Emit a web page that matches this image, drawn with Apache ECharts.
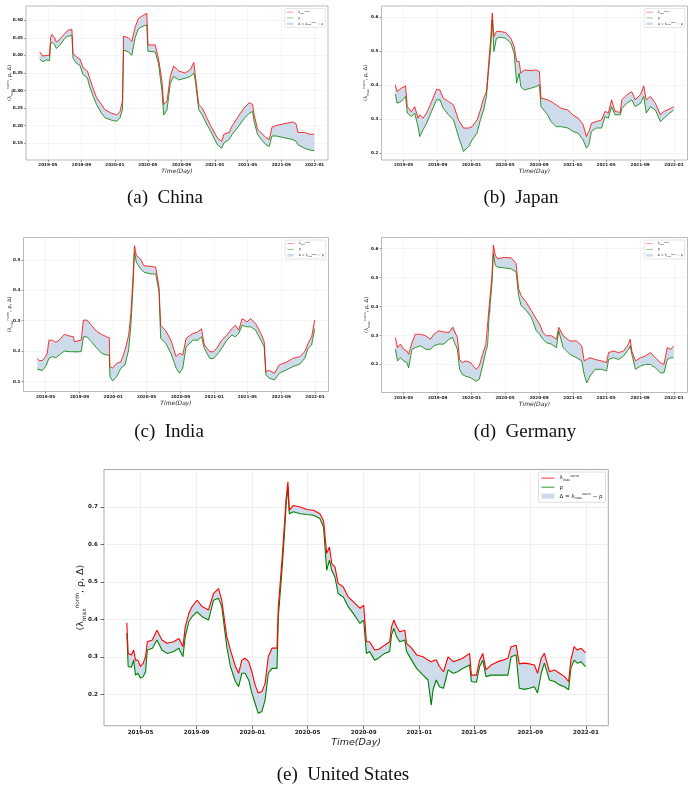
<!DOCTYPE html>
<html>
<head>
<meta charset="utf-8">
<title>lambda max norm / rho</title>
<script src="https://cdn.jsdelivr.net/npm/echarts@6/dist/echarts.min.js"></script>
<style>
html,body{margin:0;padding:0;background:#fff;}
#chart{width:690px;height:792px;}
</style>
</head>
<body>
<div id="chart"></div>
<script>
// shared x ticks
var xTicks = ['2019-05-01','2019-09-01','2020-01-01','2020-05-01','2020-09-01','2021-01-01','2021-05-01','2021-09-01','2022-01-01'];
var xMin = '2019-02-10', xMax = '2022-02-19';

// (a) China
var chinaDates = ['2019-04-01','2019-04-13','2019-04-25','2019-05-07','2019-05-11','2019-05-16','2019-05-26','2019-06-01','2019-06-13','2019-07-01',
  '2019-07-14','2019-07-28','2019-08-01','2019-08-13','2019-08-26','2019-09-07','2019-09-23','2019-10-01','2019-10-14','2019-10-26',
  '2019-11-13','2019-11-26','2019-12-20','2020-01-08','2020-01-20','2020-01-29','2020-02-02','2020-02-20','2020-03-03','2020-03-15',
  '2020-03-27','2020-04-09','2020-04-27','2020-05-01','2020-05-28','2020-06-09','2020-06-21','2020-06-28','2020-07-10','2020-07-22',
  '2020-08-03','2020-08-22','2020-09-15','2020-10-04','2020-10-16','2020-10-22','2020-11-03','2020-11-16','2020-11-28','2020-12-16',
  '2021-01-10','2021-01-26','2021-02-03','2021-02-22','2021-03-06','2021-03-31','2021-04-18','2021-05-07','2021-05-19','2021-05-25',
  '2021-06-06','2021-06-25','2021-07-07','2021-07-19','2021-07-29','2021-08-13','2021-09-12','2021-10-13','2021-10-25','2021-11-01',
  '2021-11-25','2021-12-14','2021-12-31'];
var chinaLam = [0.410,0.398,0.400,0.400,0.452,0.460,0.450,0.438,0.445,0.462,
  0.472,0.474,0.406,0.396,0.390,0.365,0.355,0.335,0.305,0.280,
  0.260,0.245,0.235,0.230,0.240,0.270,0.455,0.450,0.440,0.480,
  0.505,0.512,0.520,0.430,0.430,0.390,0.330,0.260,0.270,0.340,
  0.370,0.355,0.350,0.360,0.380,0.340,0.260,0.250,0.230,0.200,
  0.165,0.155,0.175,0.180,0.200,0.230,0.250,0.265,0.260,0.230,
  0.190,0.175,0.165,0.160,0.195,0.200,0.205,0.210,0.205,0.180,
  0.180,0.175,0.175];
var chinaRho = [0.390,0.382,0.387,0.385,0.432,0.438,0.430,0.420,0.428,0.448,
  0.455,0.457,0.392,0.378,0.372,0.345,0.335,0.310,0.283,0.260,
  0.235,0.222,0.215,0.212,0.222,0.245,0.415,0.410,0.400,0.450,
  0.475,0.482,0.487,0.412,0.410,0.376,0.300,0.230,0.245,0.320,
  0.340,0.330,0.335,0.340,0.350,0.325,0.245,0.230,0.210,0.185,
  0.145,0.135,0.150,0.160,0.175,0.200,0.220,0.235,0.240,0.210,
  0.175,0.155,0.145,0.140,0.170,0.170,0.165,0.160,0.155,0.145,
  0.135,0.130,0.128];
var chinaTicks = [0.15,0.20,0.25,0.30,0.35,0.40,0.45,0.50];

// (b) Japan
var japanDates = ['2019-04-01','2019-04-07','2019-04-22','2019-05-08','2019-05-14','2019-05-29','2019-06-10','2019-06-22','2019-06-28','2019-07-10',
  '2019-07-23','2019-08-10','2019-08-28','2019-09-09','2019-09-21','2019-10-10','2019-10-28','2019-11-15','2019-12-03','2019-12-22',
  '2020-01-03','2020-01-21','2020-02-02','2020-02-14','2020-02-24','2020-03-04','2020-03-10','2020-03-16','2020-03-22','2020-03-31',
  '2020-04-15','2020-05-03','2020-05-22','2020-06-03','2020-06-12','2020-06-21','2020-06-27','2020-07-09','2020-08-02','2020-08-21',
  '2020-09-02','2020-09-08','2020-10-02','2020-10-14','2020-11-02','2020-11-20','2020-12-14','2021-01-01','2021-01-20','2021-02-07',
  '2021-02-19','2021-02-28','2021-03-09','2021-03-27','2021-04-15','2021-04-27','2021-05-09','2021-05-21','2021-06-02','2021-06-21',
  '2021-06-27','2021-07-15','2021-08-02','2021-08-14','2021-09-02','2021-09-14','2021-09-23','2021-10-08','2021-10-26','2021-11-13',
  '2021-11-26','2021-12-14','2021-12-31'];
var japanLam = [0.401,0.381,0.391,0.398,0.337,0.322,0.337,0.303,0.313,0.303,
  0.318,0.352,0.388,0.386,0.362,0.352,0.342,0.298,0.274,0.274,
  0.278,0.298,0.327,0.362,0.381,0.475,0.533,0.612,0.543,0.558,
  0.558,0.555,0.538,0.514,0.470,0.470,0.435,0.445,0.443,0.445,
  0.440,0.362,0.357,0.352,0.342,0.332,0.327,0.313,0.303,0.284,
  0.249,0.264,0.288,0.293,0.298,0.323,0.318,0.357,0.323,0.320,
  0.357,0.372,0.381,0.357,0.372,0.398,0.357,0.367,0.347,0.313,
  0.323,0.329,0.337];
var japanRho = [0.374,0.347,0.352,0.367,0.318,0.308,0.318,0.278,0.249,0.269,
  0.288,0.323,0.357,0.357,0.332,0.313,0.298,0.249,0.205,0.220,
  0.239,0.259,0.298,0.327,0.367,0.455,0.504,0.592,0.499,0.538,
  0.541,0.538,0.524,0.494,0.406,0.435,0.396,0.386,0.391,0.396,
  0.401,0.337,0.313,0.293,0.278,0.278,0.274,0.264,0.259,0.239,
  0.215,0.225,0.264,0.274,0.274,0.308,0.303,0.337,0.313,0.313,
  0.332,0.347,0.357,0.337,0.347,0.367,0.318,0.337,0.327,0.293,
  0.303,0.316,0.327];
var japanTicks = [0.2,0.3,0.4,0.5,0.6];

// (c) India
var indiaDates = ['2019-04-01','2019-04-08','2019-04-19','2019-05-01','2019-05-07','2019-05-13','2019-05-26','2019-06-07','2019-06-19','2019-07-08',
  '2019-07-26','2019-08-10','2019-08-13','2019-09-07','2019-09-15','2019-09-28','2019-10-14','2019-11-01','2019-11-20','2019-12-08',
  '2019-12-18','2019-12-20','2019-12-30','2020-01-14','2020-01-29','2020-02-13','2020-02-26','2020-03-05','2020-03-13','2020-03-18',
  '2020-03-25','2020-04-09','2020-04-21','2020-05-16','2020-06-03','2020-06-15','2020-06-21','2020-07-10','2020-07-28','2020-08-16',
  '2020-08-28','2020-09-09','2020-09-21','2020-10-16','2020-11-03','2020-11-16','2020-11-26','2020-12-16','2020-12-29','2021-01-10',
  '2021-01-28','2021-02-16','2021-03-06','2021-03-18','2021-03-31','2021-04-12','2021-04-30','2021-05-13','2021-05-31','2021-06-19',
  '2021-07-01','2021-07-07','2021-07-19','2021-08-07','2021-08-25','2021-09-19','2021-10-13','2021-11-07','2021-11-25','2021-12-07',
  '2021-12-20','2021-12-31'];
var indiaLam = [0.176,0.169,0.169,0.182,0.193,0.236,0.236,0.229,0.236,0.255,
  0.250,0.247,0.231,0.236,0.302,0.302,0.285,0.266,0.255,0.247,
  0.244,0.149,0.144,0.160,0.165,0.204,0.253,0.323,0.449,0.547,
  0.514,0.503,0.481,0.479,0.476,0.411,0.285,0.266,0.236,0.182,
  0.193,0.187,0.242,0.258,0.263,0.274,0.220,0.198,0.198,0.209,
  0.236,0.253,0.274,0.285,0.269,0.307,0.296,0.307,0.291,0.258,
  0.231,0.133,0.136,0.127,0.155,0.163,0.176,0.182,0.198,0.225,
  0.247,0.302];
var indiaRho = [0.141,0.136,0.136,0.149,0.155,0.176,0.182,0.178,0.187,0.200,
  0.198,0.198,0.193,0.198,0.247,0.247,0.231,0.211,0.193,0.187,
  0.187,0.116,0.102,0.116,0.144,0.155,0.204,0.285,0.416,0.525,
  0.492,0.471,0.460,0.454,0.454,0.394,0.242,0.225,0.193,0.144,
  0.127,0.144,0.214,0.236,0.236,0.247,0.209,0.176,0.176,0.187,
  0.209,0.236,0.253,0.247,0.258,0.285,0.280,0.280,0.269,0.236,
  0.214,0.122,0.111,0.105,0.127,0.138,0.149,0.157,0.176,0.209,
  0.220,0.274];
var indiaTicks = [0.1,0.2,0.3,0.4,0.5];

// (d) Germany
var germanyDates = ['2019-04-01','2019-04-09','2019-04-19','2019-05-01','2019-05-13','2019-05-19','2019-05-31','2019-06-12','2019-07-01','2019-07-19',
  '2019-08-06','2019-08-18','2019-09-05','2019-09-23','2019-10-12','2019-10-24','2019-10-30','2019-11-11','2019-11-19','2019-11-29',
  '2019-12-11','2019-12-29','2020-01-17','2020-01-29','2020-02-10','2020-02-22','2020-02-28','2020-03-05','2020-03-11','2020-03-15',
  '2020-03-20','2020-03-27','2020-04-04','2020-04-29','2020-05-23','2020-06-10','2020-06-19','2020-06-28','2020-07-17','2020-08-04',
  '2020-08-22','2020-09-03','2020-09-15','2020-09-27','2020-10-15','2020-11-03','2020-11-11','2020-11-27','2020-12-21','2021-01-14',
  '2021-02-02','2021-02-11','2021-02-20','2021-03-04','2021-03-22','2021-04-15','2021-05-03','2021-05-10','2021-05-28','2021-06-15',
  '2021-07-03','2021-07-21','2021-07-27','2021-08-02','2021-08-15','2021-09-02','2021-09-20','2021-10-08','2021-10-26','2021-11-13',
  '2021-11-26','2021-12-08','2021-12-20','2021-12-31'];
var germanyLam = [0.293,0.258,0.270,0.252,0.246,0.235,0.275,0.304,0.304,0.299,
  0.287,0.304,0.316,0.312,0.310,0.328,0.333,0.293,0.217,0.206,
  0.212,0.206,0.183,0.194,0.235,0.270,0.275,0.403,0.403,0.507,
  0.612,0.577,0.565,0.569,0.568,0.548,0.461,0.438,0.414,0.386,
  0.357,0.339,0.310,0.299,0.299,0.287,0.328,0.299,0.281,0.281,
  0.264,0.212,0.217,0.223,0.217,0.212,0.206,0.241,0.246,0.241,
  0.246,0.270,0.287,0.246,0.212,0.223,0.229,0.241,0.223,0.206,
  0.200,0.258,0.252,0.264];
var germanyRho = [0.252,0.212,0.223,0.212,0.206,0.188,0.252,0.258,0.264,0.252,
  0.252,0.264,0.270,0.270,0.287,0.293,0.287,0.252,0.183,0.165,
  0.159,0.154,0.142,0.148,0.194,0.246,0.265,0.374,0.378,0.478,
  0.583,0.542,0.536,0.533,0.530,0.519,0.438,0.403,0.386,0.362,
  0.316,0.304,0.287,0.275,0.270,0.258,0.316,0.258,0.235,0.223,
  0.212,0.165,0.136,0.159,0.183,0.183,0.177,0.217,0.223,0.217,
  0.229,0.252,0.264,0.235,0.183,0.194,0.200,0.200,0.188,0.171,
  0.171,0.217,0.223,0.223];
var germanyTicks = [0.2,0.3,0.4,0.5,0.6];

// (e) United States
var usDates = ['2019-04-01','2019-04-04','2019-04-11','2019-04-16','2019-04-20','2019-04-25','2019-05-01','2019-05-07','2019-05-12','2019-05-16',
  '2019-05-27','2019-06-06','2019-06-17','2019-06-28','2019-07-13','2019-07-24','2019-08-02','2019-08-07','2019-08-15','2019-08-22',
  '2019-09-02','2019-09-13','2019-09-27','2019-10-08','2019-10-19','2019-10-26','2019-11-06','2019-11-14','2019-11-25','2019-12-02',
  '2019-12-09','2019-12-16','2019-12-24','2019-12-31','2020-01-07','2020-01-14','2020-01-22','2020-01-29','2020-02-05','2020-02-13',
  '2020-02-24','2020-02-27','2020-03-06','2020-03-11','2020-03-15','2020-03-19','2020-03-22','2020-03-31','2020-04-15','2020-04-29',
  '2020-05-14','2020-05-28','2020-06-05','2020-06-12','2020-06-18','2020-06-23','2020-06-30','2020-07-07','2020-07-18','2020-07-29',
  '2020-08-09','2020-08-24','2020-09-01','2020-09-07','2020-09-14','2020-09-25','2020-10-04','2020-10-17','2020-10-28','2020-11-01',
  '2020-11-06','2020-11-12','2020-11-19','2020-11-30','2020-12-04','2020-12-15','2020-12-26','2021-01-09','2021-01-20','2021-01-27',
  '2021-01-31','2021-02-07','2021-02-14','2021-02-23','2021-03-05','2021-03-16','2021-03-26','2021-04-06','2021-04-21','2021-04-25',
  '2021-05-06','2021-05-13','2021-05-20','2021-05-27','2021-06-07','2021-06-22','2021-07-03','2021-07-14','2021-07-21','2021-08-01',
  '2021-08-08','2021-08-19','2021-08-30','2021-09-10','2021-09-17','2021-09-25','2021-10-02','2021-10-13','2021-10-24','2021-11-04',
  '2021-11-15','2021-11-24','2021-11-29','2021-12-06','2021-12-13','2021-12-21','2021-12-31'];
var usLam = [0.391,0.309,0.305,0.318,0.291,0.291,0.274,0.283,0.300,0.340,
  0.345,0.371,0.345,0.336,0.340,0.349,0.327,0.380,0.416,0.434,
  0.451,0.434,0.425,0.469,0.482,0.451,0.354,0.318,0.274,0.256,
  0.291,0.296,0.287,0.260,0.225,0.203,0.207,0.229,0.300,0.323,
  0.323,0.434,0.558,0.647,0.722,0.767,0.691,0.704,0.700,0.693,
  0.691,0.682,0.664,0.576,0.593,0.549,0.540,0.496,0.487,0.460,
  0.447,0.429,0.438,0.340,0.340,0.318,0.320,0.331,0.340,0.380,
  0.398,0.380,0.367,0.371,0.336,0.323,0.305,0.300,0.291,0.287,
  0.292,0.292,0.274,0.260,0.300,0.287,0.291,0.296,0.309,0.251,
  0.251,0.291,0.309,0.265,0.278,0.287,0.291,0.296,0.327,0.331,
  0.281,0.283,0.281,0.278,0.256,0.296,0.309,0.260,0.265,0.256,
  0.247,0.234,0.291,0.327,0.318,0.323,0.311];
var usRho = [0.363,0.274,0.272,0.291,0.251,0.256,0.243,0.247,0.260,0.318,
  0.323,0.345,0.318,0.309,0.314,0.323,0.300,0.354,0.394,0.407,
  0.420,0.407,0.398,0.451,0.456,0.434,0.327,0.274,0.234,0.220,
  0.256,0.256,0.238,0.203,0.176,0.149,0.154,0.185,0.256,0.269,
  0.269,0.407,0.531,0.620,0.704,0.753,0.682,0.687,0.682,0.680,
  0.678,0.669,0.647,0.531,0.558,0.531,0.513,0.469,0.460,0.434,
  0.416,0.389,0.398,0.309,0.314,0.291,0.297,0.309,0.314,0.358,
  0.376,0.354,0.340,0.345,0.314,0.291,0.269,0.251,0.238,0.171,
  0.212,0.238,0.220,0.216,0.265,0.256,0.260,0.269,0.278,0.234,
  0.232,0.274,0.291,0.247,0.251,0.251,0.251,0.251,0.300,0.305,
  0.216,0.213,0.216,0.220,0.203,0.256,0.283,0.238,0.234,0.225,
  0.220,0.212,0.269,0.291,0.283,0.287,0.274];
var usTicks = [0.2,0.3,0.4,0.5,0.6,0.7];

var RED = '#ff0000', GREEN = '#008000', FILL = '#cddbea';

var small = {lw:0.8, tick:2, tickW:0.5, lab:4.2, xMargin:3, yMargin:3, name:5.2, xName:6, xNameGap:8.5,
  border:0.8, gridW:0.5, legFont:3.2, itemW:6.5, itemH:2.5, itemGap:2.3, legPad:[1.5,2], textGap:2.5};
var big = {lw:1.1, tick:3.5, tickW:0.8, lab:5.6, xMargin:4, yMargin:6, name:9.5, xName:9.5, xNameGap:12,
  border:1, gridW:0.8, legFont:5.5, itemW:13, itemH:5, itemGap:2.5, legPad:[2.5,3], textGap:5};

var panels = [
  {dates:chinaDates, lam:chinaLam, rho:chinaRho, ticks:chinaTicks, dec:2, yMin:0.1015, yMax:0.541,
   box:[26,6,302,154], yNameGap:12.5, st:small, caption:'(a)  China', cap:[165,198]},
  {dates:japanDates, lam:japanLam, rho:japanRho, ticks:japanTicks, dec:1, yMin:0.18, yMax:0.633,
   box:[381.5,6,306,154], yNameGap:12, st:small, caption:'(b)  Japan', cap:[521,198]},
  {dates:indiaDates, lam:indiaLam, rho:indiaRho, ticks:indiaTicks, dec:1, yMin:0.067, yMax:0.574,
   box:[23.5,237.5,305,154], yNameGap:10, st:small, caption:'(c)  India', cap:[169,432]},
  {dates:germanyDates, lam:germanyLam, rho:germanyRho, ticks:germanyTicks, dec:1, yMin:0.103, yMax:0.638,
   box:[381.5,237.5,306,155], yNameGap:11, st:small, caption:'(d)  Germany', cap:[525,432]},
  {dates:usDates, lam:usLam, rho:usRho, ticks:usTicks, dec:1, yMin:0.116, yMax:0.80,
   box:[104,469.5,504.3,256.2], yNameGap:17, st:big, caption:'(e)  United States', cap:[343,775]}
];

function rich(fs) {
  return {
    b: {fontSize:fs, lineHeight:fs*1.3, color:'#222', fontFamily:'DejaVu Sans'},
    s: {fontSize:fs*0.62, verticalAlign:'bottom', color:'#222', fontFamily:'DejaVu Sans'},
    p: {fontSize:fs*0.62, verticalAlign:'top', color:'#222', fontFamily:'DejaVu Sans'}
  };
}
var legendText = {
  lam: '{b|λ}{s|max}{p|norm}',
  rho: '{b|ρ}',
  delta: '{b|Δ = λ}{s|max}{p|norm}{b| − ρ}'
};
var lineIcon = 'path://M0,0H16V1H0Z';

// dates go on a plain value axis as timestamps, so ticks can sit on chosen months
function ts(d) { return echarts.time.parse(d).getTime(); }
var xTickVals = xTicks.map(ts);
function fmtMonth(v) {
  var d = new Date(v);
  var m = d.getMonth() + 1;
  return d.getFullYear() + '-' + (m < 10 ? '0' + m : m);
}

// band between rho and lambda, placed with the axes' own coord()
function bandRenderer(p) {
  return function (params, api) {
    if (params.dataIndex !== 0) return;
    var pts = [];
    for (var k = 0; k < p.dates.length; k++) pts.push(api.coord([ts(p.dates[k]), p.lam[k]]));
    for (var j = p.dates.length - 1; j >= 0; j--) pts.push(api.coord([ts(p.dates[j]), p.rho[j]]));
    return {type: 'polygon', shape: {points: pts}, style: {fill: FILL, stroke: null}};
  };
}

var option = {
  animation: false,
  backgroundColor: '#fff',
  textStyle: {fontFamily: 'DejaVu Sans'},
  grid: [], xAxis: [], yAxis: [], series: [], legend: [], graphic: []
};

panels.forEach(function (p, i) {
  var s = p.st;
  option.grid.push({
    left: p.box[0], top: p.box[1], width: p.box[2], height: p.box[3],
    show: true, borderColor: '#a9a9a9', borderWidth: s.border, backgroundColor: '#fff',
    containLabel: false, outerBoundsMode: 'none'
  });
  option.xAxis.push({
    type: 'value', gridIndex: i, scale: true,
    min: ts(xMin), max: ts(xMax),
    axisLine: {show: false},
    axisTick: {show: true, customValues: xTickVals, length: s.tick, lineStyle: {color: '#444', width: s.tickW}},
    axisLabel: {
      customValues: xTickVals, hideOverlap: false, margin: s.xMargin,
      fontSize: s.lab, fontWeight: 'bold', color: '#222', formatter: fmtMonth
    },
    splitLine: {show: true, lineStyle: {color: '#ebebeb', width: s.gridW}},
    name: 'Time(Day)', nameLocation: 'middle', nameGap: s.xNameGap, nameMoveOverlap: false,
    nameTextStyle: {fontSize: s.xName, fontStyle: 'italic', color: '#222'}
  });
  option.yAxis.push({
    type: 'value', gridIndex: i, min: p.yMin, max: p.yMax,
    axisLine: {show: false},
    axisTick: {show: true, customValues: p.ticks, length: s.tick, lineStyle: {color: '#444', width: s.tickW}},
    axisLabel: {
      customValues: p.ticks, margin: s.yMargin, fontSize: s.lab, fontWeight: 'bold', color: '#222',
      formatter: function (v) { return (+v).toFixed(p.dec); }
    },
    splitLine: {show: true, lineStyle: {color: '#ebebeb', width: s.gridW}},
    name: '{b|(λ}{s|max}{p|norm}{b|, ρ, Δ)}', nameLocation: 'middle', nameGap: p.yNameGap, nameMoveOverlap: false,
    nameTextStyle: {rich: rich(s.name)}
  });

  var rhoData = p.dates.map(function (d, k) { return [ts(d), p.rho[k]]; });
  var lamData = p.dates.map(function (d, k) { return [ts(d), p.lam[k]]; });

  option.series.push({
    name: 'delta', type: 'custom', xAxisIndex: i, yAxisIndex: i, z: 2,
    data: lamData, renderItem: bandRenderer(p), itemStyle: {color: FILL}, silent: true
  });
  option.series.push({
    name: 'rho', type: 'line', xAxisIndex: i, yAxisIndex: i,
    data: rhoData, symbol: 'none', z: 3,
    lineStyle: {color: GREEN, width: s.lw}, itemStyle: {color: GREEN}
  });
  option.series.push({
    name: 'lam', type: 'line', xAxisIndex: i, yAxisIndex: i,
    data: lamData, symbol: 'none', z: 4,
    lineStyle: {color: RED, width: s.lw}, itemStyle: {color: RED}
  });

  option.legend.push({
    orient: 'vertical', selectedMode: false,
    right: 690 - (p.box[0] + p.box[2]) + 2.8, top: p.box[1] + 2.5,
    padding: s.legPad, itemGap: s.itemGap, itemWidth: s.itemW, itemHeight: s.itemH, itemTextGap: s.textGap,
    backgroundColor: '#fff', borderColor: '#d0d0d0', borderWidth: s.border * 0.7, borderRadius: 1.5,
    textStyle: {fontSize: s.legFont, rich: rich(s.legFont)},
    formatter: function (n) { return legendText[n]; },
    data: [
      {name: 'lam', icon: lineIcon, itemStyle: {color: RED}},
      {name: 'rho', icon: lineIcon, itemStyle: {color: GREEN}},
      {name: 'delta', icon: 'rect', itemStyle: {color: FILL}}
    ]
  });

  option.graphic.push({
    type: 'text', x: p.cap[0], y: p.cap[1],
    style: {text: p.caption, fontSize: 19, fontFamily: 'Liberation Serif', fill: '#111',
      align: 'center', verticalAlign: 'middle', textAlign: 'center', textVerticalAlign: 'middle'}
  });
});

var chart = echarts.init(document.getElementById('chart'));
chart.setOption(option);
</script>
</body>
</html>
